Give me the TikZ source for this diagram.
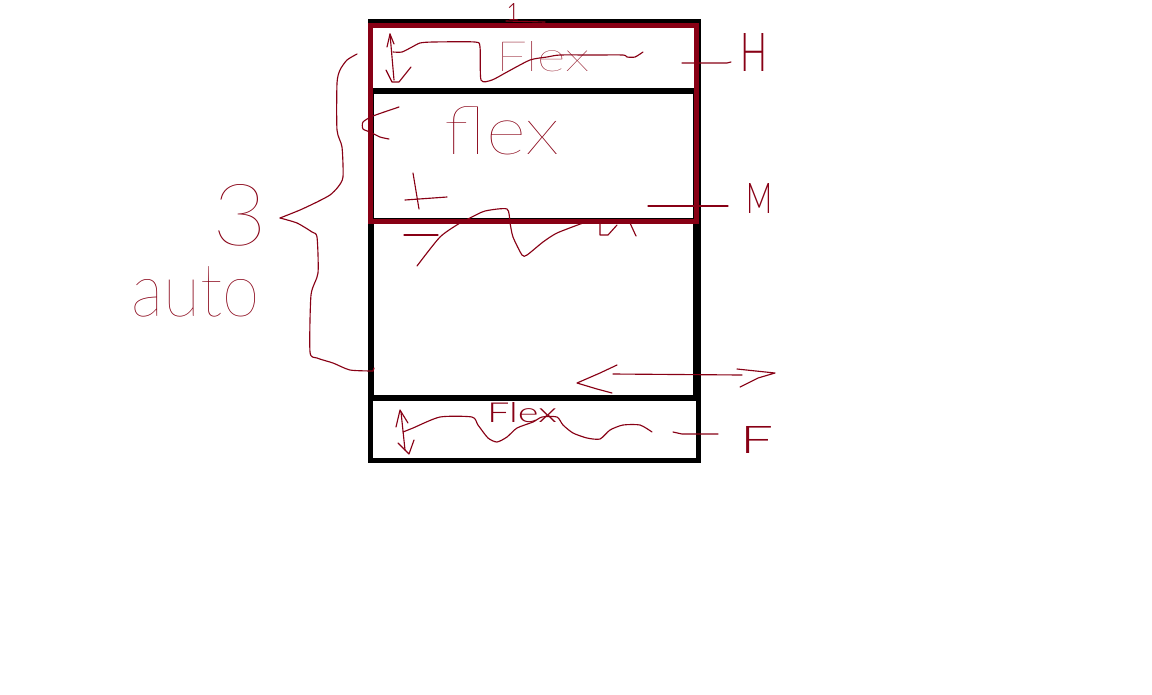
\documentclass[tikz,border=0pt]{standalone}
\usepackage{fontspec}
\IfFontExistsTF{Lato Thin}{\newfontfamily\handfont{Lato Thin}}{%
  \IfFontExistsTF{Lato Hairline}{\newfontfamily\handfont{Lato Hairline}}{\newfontfamily\handfont{Lato}}}
\IfFontExistsTF{Lato Light}{\newfontfamily\handlight{Lato Light}}{\newfontfamily\handlight{Lato}}
\definecolor{pdark}{RGB}{136,0,21}
\newdimen\pxu \pxu=0.75pt
\newcommand\handtext[3]{\resizebox{#1\pxu}{#2\pxu}{\handfont #3}}
\newcommand\handtextl[3]{\resizebox{#1\pxu}{#2\pxu}{\handlight #3}}
\tikzset{
  blkbox/.style={draw=black, line width=3.9pt, rectangle, inner sep=0pt, outer sep=0pt},
  redbox/.style={draw=pdark, line width=3.75pt, rectangle, inner sep=0pt, outer sep=0pt},
  ink/.style={draw=pdark, line width=0.85pt, line cap=round, line join=round},
  lbl/.style={text=pdark, inner sep=0pt, outer sep=0pt},
}
\begin{document}
\begin{tikzpicture}[x=0.75pt,y=-0.75pt]
\useasboundingbox (0,0) rectangle (1152,694);
\fill[white] (0,0) rectangle (1152,694);

% boxes
\node[blkbox, minimum width=245.44pt, minimum height=281.63pt] (frame) at (534.375,209.75) {};
\node[blkbox, line width=4.1pt, minimum width=243.38pt, minimum height=97.5pt] (middle) at (533.25,156) {};
\node[blkbox, minimum width=243.38pt, minimum height=132.38pt] (content) at (533.25,309.25) {};
\node[redbox, minimum width=244.58pt, minimum height=146.63pt] (header) at (533.25,123.25) {};
\node[blkbox, line width=3.75pt, minimum width=246.15pt, minimum height=46.2pt] (footer) at (534.3,429.2) {};

% texts
\node[lbl] (one) at (513,12) {\handtextl{13}{17}{1}};
\draw[ink] (506,21) -- (545,22);
\node[lbl] (flexH) at (543,57) {\handtext{94}{30}{Flex}};
\node[lbl] (flexM) at (502.5,131) {\handtext{115}{48}{flex}};
\node[lbl] (flexF) at (522,413) {\handtextl{70}{20}{Flex}};
\node[lbl] (labH) at (753.5,52) {\handtextl{27}{38}{H}};
\node[lbl] (labM) at (759,198) {\handtextl{26}{30}{M}};
\node[lbl] (labF) at (756.5,439.5) {\handtextl{33}{27}{F}};
\node[lbl] (three) at (240.5,215.5) {\handtext{55}{61}{3}};
\node[lbl] (auto) at (196,292) {\handtext{128}{50}{auto}};

% header up-down arrow
\draw[ink] (387,47) -- (390,34) -- (394,44);
\draw[ink] (390,34) -- (394,80);
\draw[ink] (386,70) -- (392,82) -- (399,82) -- (411,67);
% header wave
\draw[ink] plot[smooth, tension=0.4] coordinates {(393,52) (402,52) (412,47) (420,43) (433,42) (475,42) (480,47) (481,80) (492,80) (507,72) (530,60) (547,57) (560,55) (593,55) (623,55) (627,57) (635,57) (643,52)};
% '<' mark
\draw[ink] plot[smooth, tension=0.4] coordinates {(399,107) (373,116) (363,122) (363,129) (370,132) (380,137) (389,139)};
% plus / minus
\draw[ink] (413,173) -- (419,209);
\draw[ink] (405,200) -- (447,197);
\draw[ink] (404,235) -- (438,235);
% middle wave
\draw[ink] plot[smooth, tension=0.4] coordinates {(417,266) (440,237) (460,223) (470,218) (485,211) (507,209) (510,223) (513,237) (522,255) (527,255) (543,242) (557,233) (583,223)};
\draw[ink] (600,223) -- (600,235) -- (608,235) -- (617,225);
\draw[ink] (630,223) -- (636,236);
% label ticks
\coordinate (tickHa) at (682,63);
\coordinate (tickHb) at (731,62);
\draw[ink] (tickHa) -- (727,63) -- (tickHb);
\coordinate (tickMa) at (648,206);
\coordinate (tickMb) at (728,206);
\draw[ink] (tickMa) -- (tickMb);
\coordinate (tickFa) at (673,432);
\coordinate (tickFb) at (718,434);
\draw[ink] (tickFa) -- (682,434) -- (tickFb);
% horizontal double arrow
\draw[ink] (613,374) -- (742,375);
\draw[ink] (617,365) -- (600,373) -- (577,383) -- (597,389) -- (612,393);
\draw[ink] (737,369) -- (775,373) -- (758,378) -- (740,387);
% footer up-down arrow
\draw[ink] (396,427) -- (400,410) -- (408,423);
\draw[ink] (401,412) -- (405,450);
\draw[ink] (398,443) -- (409,454) -- (414,440);
% footer wave
\draw[ink] plot[smooth, tension=0.4] coordinates {(403,432) (413,428) (440,417) (472,417) (478,425) (488,438) (497,442) (507,437) (517,428) (533,422) (542,417) (557,417) (563,425) (573,433) (587,438) (600,439) (610,430) (623,425) (640,425) (652,432)};
% brace
\draw[ink] plot[smooth, tension=0.4] coordinates {(357,54) (347,60) (340,70) (337,83) (337,130) (342,147) (343,177) (338,187) (330,195) (317,202) (300,210) (280,218)};
\draw[ink] plot[smooth, tension=0.4] coordinates {(280,218) (297,223) (312,232) (317,237) (318,273) (311,295) (310,352) (317,358) (333,363) (350,370) (373,371)};
\draw[ink] (373,371) -- (374,368);
\end{tikzpicture}
\end{document}
